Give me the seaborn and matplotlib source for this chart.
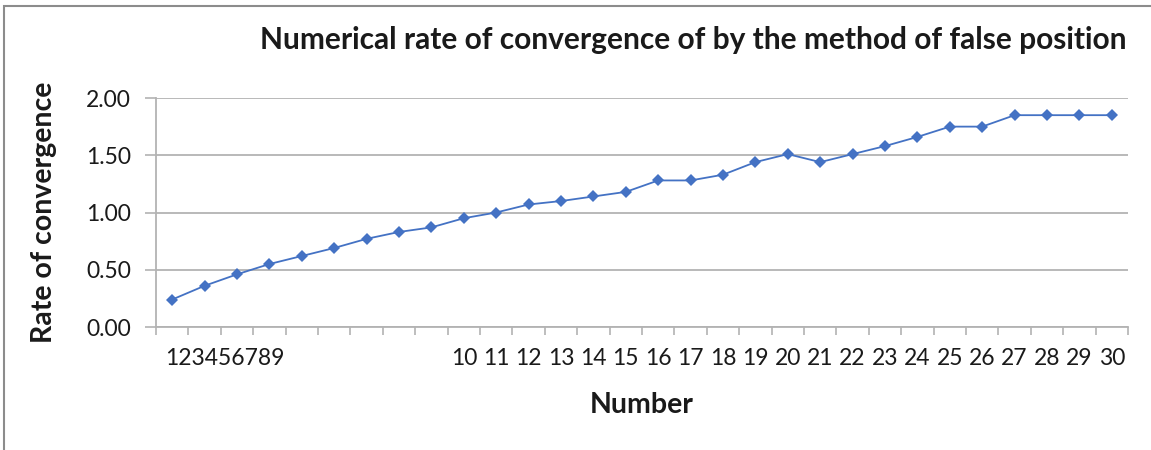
import numpy as np
import pandas as pd
import matplotlib
matplotlib.use("Agg")
import matplotlib.pyplot as plt
import matplotlib.patches as mpatches
import matplotlib.transforms as mtransforms
import seaborn as sns

# data
number = list(range(1, 31))
rate = [0.24, 0.36, 0.46, 0.55, 0.62, 0.69, 0.77, 0.83, 0.87, 0.95,
        1.00, 1.07, 1.10, 1.14, 1.18, 1.28, 1.28, 1.33, 1.44, 1.51,
        1.44, 1.51, 1.58, 1.66, 1.75, 1.75, 1.85, 1.85, 1.85, 1.85]
tick_labels = [""] * 9 + [str(n) for n in number[9:]]
crammed_label = "".join(str(n) for n in number[:9])

df = pd.DataFrame({"Number": number, "Rate": rate})

sns.set_style("white")
plt.rcParams["font.family"] = ["Lato", "DejaVu Sans"]
text_col = "#1a1a1a"
grid_col = "#b3b3b3"

fig = plt.figure(figsize=(11.51, 4.5), dpi=100)
ax = fig.add_axes([156 / 1151, 1 - 327 / 450, 972 / 1151, 229 / 450])

sns.lineplot(data=df, x="Number", y="Rate", ax=ax, color="#4472C4",
             marker="D", markersize=6, markeredgewidth=0, linewidth=1.3)

ax.set_xlim(0.5, 30.5)
ax.set_ylim(0, 2.0)
ax.set_yticks(np.arange(0, 2.01, 0.5))
ax.set_yticklabels([f"{v:.2f}" for v in np.arange(0, 2.01, 0.5)])
ax.yaxis.grid(True, color=grid_col, linewidth=1.3)
ax.set_axisbelow(True)

ax.set_xticks(number)
ax.set_xticklabels(tick_labels)
ax.set_xticks(np.arange(0.5, 31, 1), minor=True)
ax.tick_params(axis="x", which="major", length=0, pad=15, labelsize=16.5, labelcolor=text_col)
ax.tick_params(axis="x", which="minor", length=6, width=1.2, color=grid_col, direction="out", bottom=True)
ax.tick_params(axis="y", length=8, width=1.2, color=grid_col, pad=10, labelsize=16.5,
               labelcolor=text_col, left=True)

trans = mtransforms.blended_transform_factory(ax.transData, ax.transAxes)
ax.text(0.78, -0.09, crammed_label, transform=trans, ha="left", va="top",
        fontsize=16.5, color=text_col)

for side in ["top", "right"]:
    ax.spines[side].set_visible(False)
for side in ["left", "bottom"]:
    ax.spines[side].set_color(grid_col)
    ax.spines[side].set_linewidth(1.3)

ax.set_xlabel("Number", fontsize=20.5, fontweight="bold", color=text_col)
ax.set_ylabel("Rate of convergence", fontsize=20.5, fontweight="bold", color=text_col)
ax.xaxis.set_label_coords(0.5, -0.285)
ax.yaxis.set_label_coords(-0.102, 0.5)

fig.text(1127 / 1151, 1 - 40 / 450, "Numerical rate of convergence of by the method of false position",
         ha="right", va="center", fontsize=21.5, fontweight="bold", color=text_col)

# chart frame
fig.patches.append(mpatches.Rectangle((4 / 1151, -0.05), 1.1, 1 - 6 / 450 + 0.05,
                                      transform=fig.transFigure, fill=False,
                                      edgecolor="#8c8c8c", linewidth=1.5))

fig.savefig("out.png", dpi=100)
